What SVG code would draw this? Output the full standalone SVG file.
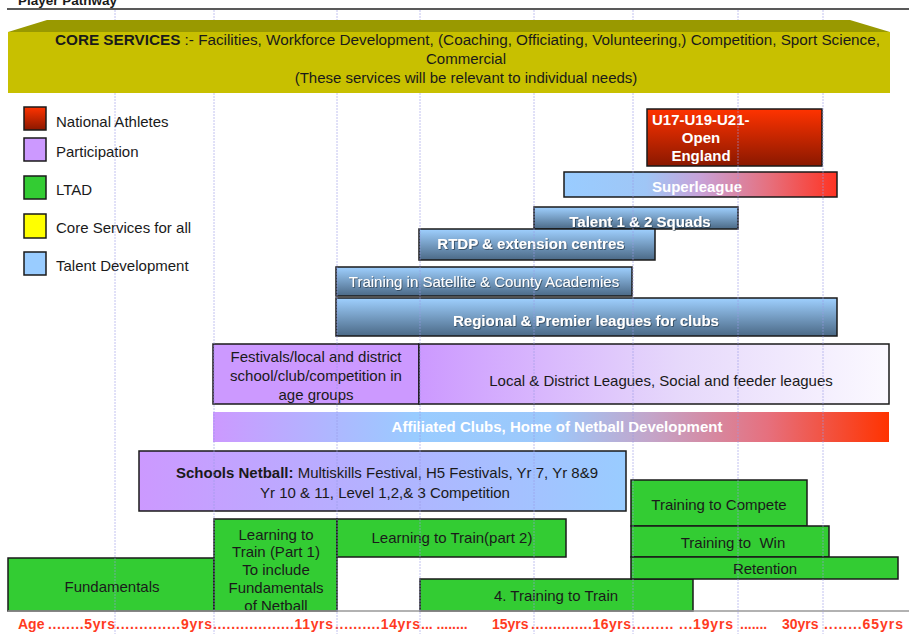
<svg xmlns="http://www.w3.org/2000/svg" width="909" height="634" viewBox="0 0 909 634">
<defs>
<style>
text{font-family:"Liberation Sans",Arial,sans-serif;font-size:15px;fill:#1a1a1a}
.c{text-anchor:middle}
.b{font-weight:bold}
.w{fill:#ffffff;font-weight:bold}
.box{stroke:#1a1a1a;stroke-width:1.5}
.g{fill:#33cc33}
.age{fill:#ff3b1f;font-weight:bold;font-size:14px}
.grid{stroke:#9a9ae6;stroke-width:1;stroke-dasharray:2 1;opacity:0.6}
</style>
<linearGradient id="red" x1="0" y1="0" x2="0" y2="1"><stop offset="0" stop-color="#ff3300"/><stop offset="1" stop-color="#8a1800"/></linearGradient>
<linearGradient id="blue" x1="0" y1="0" x2="0" y2="1"><stop offset="0" stop-color="#9fd0ff"/><stop offset="1" stop-color="#4b6986"/></linearGradient>
<linearGradient id="super" x1="0" y1="0" x2="1" y2="0"><stop offset="0" stop-color="#99ccff"/><stop offset="0.3" stop-color="#9fc6f6"/><stop offset="0.5" stop-color="#c8a2d8"/><stop offset="0.75" stop-color="#e6707e"/><stop offset="1" stop-color="#ff3322"/></linearGradient>
<linearGradient id="aff" x1="0" y1="0" x2="1" y2="0"><stop offset="0" stop-color="#cc99ff"/><stop offset="0.3" stop-color="#99ccff"/><stop offset="0.5" stop-color="#9cc8fb"/><stop offset="0.65" stop-color="#c4a4c8"/><stop offset="0.82" stop-color="#e6707e"/><stop offset="1" stop-color="#ff3300"/></linearGradient>
<linearGradient id="school" x1="0" y1="0" x2="1" y2="0"><stop offset="0" stop-color="#cc99ff"/><stop offset="1" stop-color="#99ccff"/></linearGradient>
<linearGradient id="local" x1="0" y1="0" x2="1" y2="0"><stop offset="0" stop-color="#cc99ff"/><stop offset="0.55" stop-color="#e6d8fb"/><stop offset="1" stop-color="#fbf9ff"/></linearGradient>
<filter id="sh" x="-5%" y="-30%" width="110%" height="160%"><feDropShadow dx="0.8" dy="0.8" stdDeviation="0.6" flood-color="#203040" flood-opacity="0.8"/></filter>
<clipPath id="l1clip"><rect x="214" y="519" width="123" height="92"/></clipPath>
</defs>
<rect width="909" height="634" fill="#ffffff"/>

<g id="title">
<text x="18" y="5" class="b" style="font-size:13.5px">Player Pathway</text>
<line x1="7" y1="9" x2="909" y2="9" stroke="#222" stroke-width="1.5"/>
</g>

<g id="core-services">
<polygon points="8,32 47,20 850,20 890,32" fill="#999900"/>
<rect x="8" y="32" width="882" height="61" fill="#c8c000"/>
<text x="55" y="45" textLength="825" lengthAdjust="spacingAndGlyphs" style="font-size:14px"><tspan class="b">CORE SERVICES</tspan>  :- Facilities, Workforce Development, (Coaching, Officiating, Volunteering,) Competition, Sport Science,</text>
<text x="466" y="64" class="c">Commercial</text>
<text x="466" y="83" class="c">(These services will be relevant to individual needs)</text>
</g>

<g id="legend">
<rect x="24" y="107" width="22" height="23" fill="url(#red)" class="box"/>
<text x="56" y="127">National Athletes</text>
<rect x="24" y="138" width="22" height="23" fill="#cc99ff" class="box"/>
<text x="56" y="157">Participation</text>
<rect x="24" y="176" width="22" height="23" fill="#33cc33" class="box"/>
<text x="56" y="195">LTAD</text>
<rect x="24" y="214" width="22" height="24" fill="#ffff00" class="box"/>
<text x="56" y="233">Core Services for all</text>
<rect x="24" y="252" width="22" height="23" fill="#99ccff" class="box"/>
<text x="56" y="271">Talent Development</text>
</g>

<g id="national">
<rect x="647" y="109" width="175" height="57" fill="url(#red)" class="box"/>
<text x="652" y="125" class="w">U17-U19-U21-</text>
<text x="701" y="143" class="w c">Open</text>
<text x="701" y="161" class="w c">England</text>
</g>

<g id="superleague">
<rect x="564" y="172" width="273" height="25" fill="url(#super)" class="box"/>
<text x="697" y="192" class="w c">Superleague</text>
</g>

<g id="talent-squads">
<rect x="534" y="207" width="204" height="22" fill="url(#blue)" class="box"/>
<text x="640" y="227" class="w c" filter="url(#sh)">Talent 1 &amp; 2 Squads</text>
</g>

<g id="rtdp">
<rect x="419" y="229" width="236" height="31" fill="url(#blue)" class="box"/>
<text x="531" y="249" class="w c" filter="url(#sh)">RTDP &amp; extension centres</text>
</g>

<g id="satellite">
<rect x="336" y="267" width="296" height="29" fill="url(#blue)" class="box"/>
<text x="484" y="287" class="c" style="fill:#fff" filter="url(#sh)">Training in Satellite &amp; County Academies</text>
</g>

<g id="regional">
<rect x="336" y="298" width="501" height="38" fill="url(#blue)" class="box"/>
<text x="586" y="326" class="w c" filter="url(#sh)">Regional &amp; Premier leagues for clubs</text>
</g>

<g id="festivals">
<rect x="213" y="344" width="206" height="60" fill="#cc99ff" class="box"/>
<text x="316" y="362" class="c">Festivals/local and district</text>
<text x="316" y="381" class="c">school/club/competition in</text>
<text x="316" y="400" class="c">age groups</text>
</g>

<g id="local-leagues">
<rect x="419" y="344" width="470" height="60" fill="url(#local)" class="box"/>
<text x="661" y="386" class="c">Local &amp; District Leagues, Social and feeder leagues</text>
</g>

<g id="affiliated">
<rect x="213" y="412" width="676" height="30" fill="url(#aff)"/>
<text x="557" y="432" class="w c">Affiliated Clubs, Home of Netball Development</text>
</g>

<g id="schools">
<rect x="139" y="451" width="487" height="60" fill="url(#school)" class="box"/>
<text x="387" y="478" class="c"><tspan class="b">Schools Netball:</tspan> Multiskills Festival, H5 Festivals, Yr 7, Yr 8&amp;9</text>
<text x="385" y="498" class="c">Yr 10 &amp; 11, Level 1,2,&amp; 3 Competition</text>
</g>

<g id="fundamentals">
<rect x="8" y="558" width="206" height="53" class="box g"/>
<text x="112" y="592" class="c">Fundamentals</text>
</g>

<g id="learning-1">
<rect x="214" y="519" width="123" height="92" class="box g"/>
<g clip-path="url(#l1clip)">
<text x="276" y="540" class="c">Learning to</text>
<text x="276" y="557" class="c">Train (Part 1)</text>
<text x="276" y="575" class="c">To include</text>
<text x="276" y="593" class="c">Fundamentals</text>
<text x="276" y="611" class="c">of Netball</text>
</g>
</g>

<g id="learning-2">
<rect x="337" y="519" width="229" height="38" class="box g"/>
<text x="452" y="543" class="c">Learning to Train(part 2)</text>
</g>

<g id="training-to-train">
<rect x="420" y="579" width="273" height="32" class="box g"/>
<text x="556" y="601" class="c">4. Training to Train</text>
</g>

<g id="compete">
<rect x="631" y="480" width="176" height="46" class="box g"/>
<text x="719" y="510" class="c">Training to Compete</text>
</g>

<g id="win">
<rect x="631" y="526" width="198" height="31" class="box g"/>
<text x="733" y="548" class="c" xml:space="preserve">Training to  Win</text>
</g>

<g id="retention">
<rect x="631" y="557" width="267" height="22" class="box g"/>
<text x="765" y="574" class="c">Retention</text>
</g>

<g id="axis">
<line x1="8" y1="611" x2="909" y2="611" stroke="#999" stroke-width="1.5"/>
<text x="18" y="629" class="age">Age</text>
<text x="48" y="629" class="age" textLength="67" lengthAdjust="spacing">........5yrs</text>
<text x="116" y="629" class="age" textLength="96" lengthAdjust="spacing">..............9yrs</text>
<text x="213" y="629" class="age" textLength="120" lengthAdjust="spacing">..................11yrs</text>
<text x="335" y="629" class="age" textLength="85" lengthAdjust="spacing">..........14yrs</text>
<text x="421" y="629" class="age" xml:space="preserve">... ........</text>
<text x="492" y="629" class="age">15yrs</text>
<text x="531" y="629" class="age" textLength="100" lengthAdjust="spacing">..............16yrs</text>
<text x="632" y="629" class="age" textLength="101" lengthAdjust="spacing">......... ...19yrs</text>
<text x="740" y="629" class="age">.......</text>
<text x="782" y="629" class="age">30yrs</text>
<text x="824" y="629" class="age" textLength="79" lengthAdjust="spacing">........65yrs</text>
</g>

<g id="gridlines" class="grid">
<path d="M115 10V20M115 93V634M214 10V20M214 93V634M337 10V20M337 93V634M420 10V20M420 93V634M534 10V20M534 93V634M633 10V20M633 93V634M738 10V20M738 93V634M823 10V20M823 93V634" fill="none"/>
</g>
</svg>
